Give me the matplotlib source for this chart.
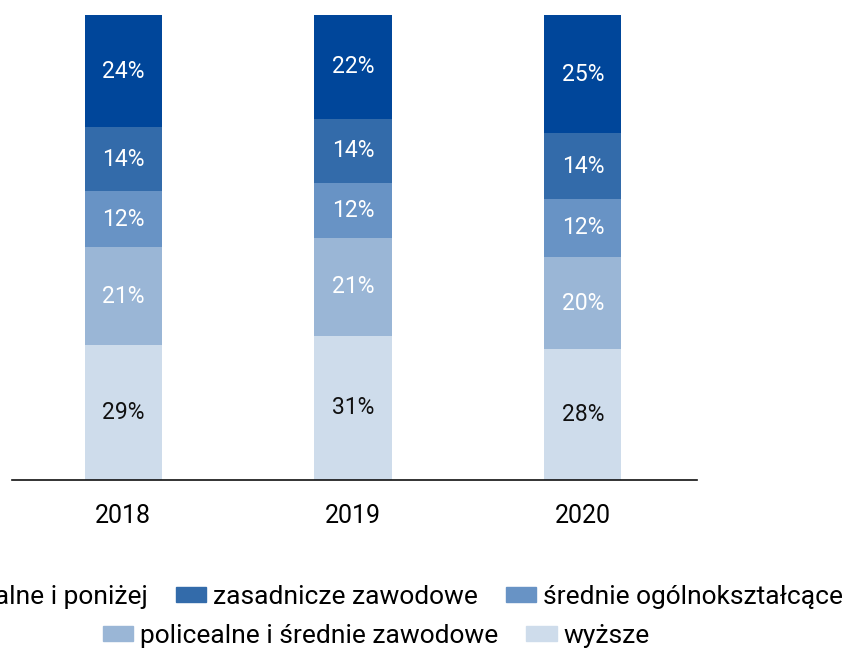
import matplotlib
matplotlib.use("Agg")
import matplotlib.pyplot as plt
from matplotlib.patches import Patch
import numpy as np

plt.rcParams['font.family'] = ['Roboto', 'DejaVu Sans']

years = ["2018", "2019", "2020"]
series_names = ["gimnazjalne i poniżej", "zasadnicze zawodowe", "średnie ogólnokształcące",
                "policealne i średnie zawodowe", "wyższe"]
wyzsze = [29.0, 31.0, 28.1]
policealne = [21.1, 21.1, 19.9]
srednie = [12.0, 11.8, 12.4]
zasadnicze = [13.8, 13.8, 14.2]
gimnazjalne = [24.1, 22.3, 25.4]

colors = {
    "wyższe": "#CEDCEB",
    "policealne i średnie zawodowe": "#9AB6D6",
    "średnie ogólnokształcące": "#6893C5",
    "zasadnicze zawodowe": "#336BAA",
    "gimnazjalne i poniżej": "#00469A",
}
text_colors = {
    "wyższe": "#111111",
    "policealne i średnie zawodowe": "white",
    "średnie ogólnokształcące": "white",
    "zasadnicze zawodowe": "white",
    "gimnazjalne i poniżej": "white",
}

stack = [("wyższe", wyzsze), ("policealne i średnie zawodowe", policealne),
         ("średnie ogólnokształcące", srednie), ("zasadnicze zawodowe", zasadnicze),
         ("gimnazjalne i poniżej", gimnazjalne)]

fig = plt.figure(figsize=(8.46, 6.51), dpi=100)
ax = fig.add_axes([12/846, 171/651, (697-12)/846, (480-15)/651])

x = np.arange(len(years))
width = 0.335
ytop = 100
bottom = np.zeros(len(years))
for name, vals in stack:
    vals = np.array(vals, dtype=float)
    ax.bar(x, vals, width, bottom=bottom, color=colors[name], linewidth=0, label=name)
    for xi, b, v in zip(x, bottom, vals):
        top = min(b + v, ytop)
        cy = (b + top) / 2
        ax.text(xi, cy, f"{v:.0f}%", ha="center", va="center", fontsize=16.5,
                color=text_colors[name])
    bottom += vals

ax.set_ylim(0, ytop)
ax.set_xlim(-0.483, 2.496)
ax.set_xticks(x)
ax.set_xticklabels(years, fontsize=18)
ax.tick_params(axis='x', length=0, pad=17)
ax.set_yticks([])
for s in ["top", "left", "right"]:
    ax.spines[s].set_visible(False)
ax.spines["bottom"].set_linewidth(1.2)
ax.spines["bottom"].set_color("#111111")

leg_kw = dict(frameon=False, fontsize=19, handlelength=1.14, handleheight=0.49,
              handletextpad=0.27, columnspacing=1.06, borderpad=0, borderaxespad=0)
row1 = [Patch(color=colors[n], label=n) for n in series_names[:3]]
row2 = [Patch(color=colors[n], label=n) for n in series_names[3:]]
l1 = fig.legend(handles=row1, ncol=3, loc="center right",
                bbox_to_anchor=(843/846, 1 - 597/651), **leg_kw)
l2 = fig.legend(handles=row2, ncol=2, loc="center",
                bbox_to_anchor=(376.5/846, 1 - 636/651), **leg_kw)

fig.savefig("out.png", dpi=100)
